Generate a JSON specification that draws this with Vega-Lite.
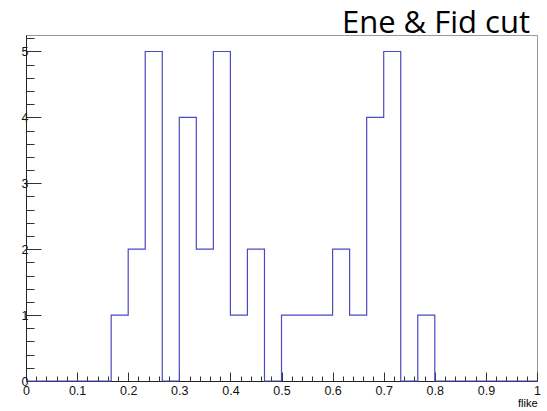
{
  "$schema": "https://vega.github.io/schema/vega-lite/v6.json",
  "width": 511,
  "height": 346,
  "autosize": {"type": "none"},
  "padding": {"left": 26, "top": 35, "right": 10, "bottom": 30},
  "background": "white",
  "title": {"text": "Ene & Fid cut", "anchor": "end", "font": "Open Sans", "fontSize": 31, "fontWeight": "normal", "color": "black", "offset": -2, "dy": 3, "dx": -7, "frame": "group"},
  "config": {
    "view": {"stroke": "#999", "strokeWidth": 1},
    "axis": {"grid": false, "labelFont": "Liberation Sans", "labelFontSize": 12.5, "labelColor": "#111", "domainColor": "#222", "tickColor": "#333", "titleFont": "Liberation Sans", "titleFontWeight": "normal", "titleFontSize": 11, "titleColor": "black"}
  },
  "data": {"values": [
    {"x": 0.0, "n": 0}, {"x": 0.0333, "n": 0}, {"x": 0.0667, "n": 0}, {"x": 0.1, "n": 0}, {"x": 0.1333, "n": 0},
    {"x": 0.1667, "n": 1}, {"x": 0.2, "n": 2}, {"x": 0.2333, "n": 5}, {"x": 0.2667, "n": 0}, {"x": 0.3, "n": 4},
    {"x": 0.3333, "n": 2}, {"x": 0.3667, "n": 5}, {"x": 0.4, "n": 1}, {"x": 0.4333, "n": 2}, {"x": 0.4667, "n": 0},
    {"x": 0.5, "n": 1}, {"x": 0.5333, "n": 1}, {"x": 0.5667, "n": 1}, {"x": 0.6, "n": 2}, {"x": 0.6333, "n": 1},
    {"x": 0.6667, "n": 4}, {"x": 0.7, "n": 5}, {"x": 0.7333, "n": 0}, {"x": 0.7667, "n": 1}, {"x": 0.8, "n": 0},
    {"x": 0.8333, "n": 0}, {"x": 0.8667, "n": 0}, {"x": 0.9, "n": 0}, {"x": 0.9333, "n": 0}, {"x": 0.9667, "n": 0},
    {"x": 1.0, "n": 0}
  ]},
  "layer": [
    {
      "mark": {"type": "line", "interpolate": "step-after", "color": "#4a4ac4", "strokeWidth": 1.2},
      "encoding": {
        "x": {"field": "x", "type": "quantitative", "scale": {"domain": [0, 1], "nice": false, "zero": false},
          "axis": {"orient": "bottom", "values": [0, 0.1, 0.2, 0.3, 0.4, 0.5, 0.6, 0.7, 0.8, 0.9, 1], "format": "~g", "tickSize": -9, "labelPadding": 12, "title": "flike", "titleAnchor": "end", "titlePadding": 1, "labelFlush": false}},
        "y": {"field": "n", "type": "quantitative", "scale": {"domain": [0, 5.25], "nice": false},
          "axis": {"orient": "left", "values": [0, 1, 2, 3, 4, 5], "tickSize": -15, "labelPadding": 13, "title": null}}
      }
    },
    {
      "mark": {"type": "line", "opacity": 0},
      "encoding": {
        "x": {"field": "x", "type": "quantitative", "scale": {"domain": [0, 1], "nice": false, "zero": false},
          "axis": {"orient": "bottom", "values": [0.02, 0.04, 0.06, 0.08, 0.12, 0.14, 0.16, 0.18, 0.22, 0.24, 0.26, 0.28, 0.32, 0.34, 0.36, 0.38, 0.42, 0.44, 0.46, 0.48, 0.52, 0.54, 0.56, 0.58, 0.62, 0.64, 0.66, 0.68, 0.72, 0.74, 0.76, 0.78, 0.82, 0.84, 0.86, 0.88, 0.92, 0.94, 0.96, 0.98], "labels": false, "domain": false, "tickSize": -5, "title": null}},
        "y": {"field": "n", "type": "quantitative", "scale": {"domain": [0, 5.25], "nice": false},
          "axis": {"orient": "left", "values": [0.2, 0.4, 0.6, 0.8, 1.2, 1.4, 1.6, 1.8, 2.2, 2.4, 2.6, 2.8, 3.2, 3.4, 3.6, 3.8, 4.2, 4.4, 4.6, 4.8, 5.2], "labels": false, "domain": false, "tickSize": -8, "title": null}}
      }
    }
  ],
  "resolve": {"axis": {"x": "independent", "y": "independent"}}
}
